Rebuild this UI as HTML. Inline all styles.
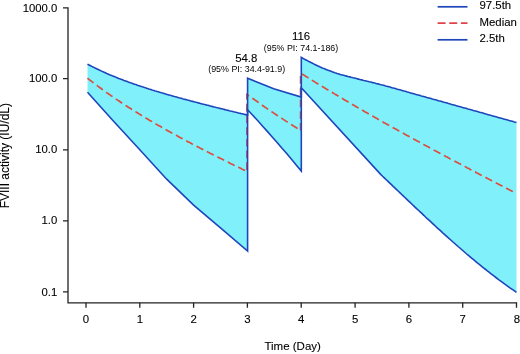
<!DOCTYPE html>
<html><head><meta charset="utf-8"><style>
html,body{margin:0;padding:0;background:#fff;}
svg{display:block;will-change:transform;}
text{font-family:"Liberation Sans",sans-serif;fill:#000;stroke:#000;stroke-width:0.1px;}
</style></head><body>
<svg width="520" height="354" viewBox="0 0 520 354">
<rect width="520" height="354" fill="#fff"/>
<polygon points="87.5,64.1 88.6,64.7 89.6,65.2 90.7,65.8 91.8,66.4 92.9,66.9 93.9,67.4 95.0,68.0 96.1,68.5 97.2,69.0 98.2,69.5 99.3,70.1 100.4,70.6 101.5,71.1 102.5,71.6 103.6,72.0 104.7,72.5 105.8,73.0 106.8,73.5 107.9,73.9 109.0,74.4 110.1,74.9 111.1,75.3 112.2,75.8 113.3,76.2 114.4,76.6 115.4,77.1 116.5,77.5 117.6,77.9 118.7,78.4 119.7,78.8 120.8,79.2 121.9,79.6 123.0,80.0 124.0,80.4 125.1,80.8 126.2,81.2 127.3,81.6 128.3,82.0 129.4,82.4 130.5,82.8 131.6,83.1 132.6,83.5 133.7,83.9 134.8,84.3 135.9,84.6 136.9,85.0 138.0,85.4 139.1,85.7 140.2,86.1 141.2,86.4 142.3,86.8 143.4,87.1 144.4,87.5 145.5,87.8 146.6,88.2 147.7,88.5 148.7,88.9 149.8,89.2 150.9,89.5 152.0,89.9 153.0,90.2 154.1,90.5 155.2,90.9 156.3,91.2 157.3,91.5 158.4,91.8 159.5,92.2 160.6,92.5 161.6,92.8 162.7,93.1 163.8,93.4 164.9,93.7 165.9,94.1 167.0,94.4 168.1,94.7 169.2,95.0 170.2,95.3 171.3,95.6 172.4,95.9 173.5,96.2 174.5,96.5 175.6,96.8 176.7,97.1 177.8,97.4 178.8,97.7 179.9,98.0 181.0,98.3 182.1,98.6 183.1,98.9 184.2,99.2 185.3,99.4 186.4,99.7 187.4,100.0 188.5,100.3 189.6,100.6 190.7,100.9 191.7,101.2 192.8,101.4 193.9,101.7 194.9,102.0 196.0,102.3 197.1,102.6 198.2,102.9 199.2,103.1 200.3,103.4 201.4,103.7 202.5,104.0 203.5,104.2 204.6,104.5 205.7,104.8 206.8,105.1 207.8,105.3 208.9,105.6 210.0,105.9 211.1,106.2 212.1,106.4 213.2,106.7 214.3,107.0 215.4,107.2 216.4,107.5 217.5,107.8 218.6,108.0 219.7,108.3 220.7,108.6 221.8,108.8 222.9,109.1 224.0,109.4 225.0,109.6 226.1,109.9 227.2,110.2 228.3,110.4 229.3,110.7 230.4,111.0 231.5,111.2 232.6,111.5 233.6,111.8 234.7,112.0 235.8,112.3 236.9,112.5 237.9,112.8 239.0,113.1 240.1,113.3 241.2,113.6 242.2,113.8 243.3,114.1 244.4,114.4 245.5,114.6 246.5,114.9 247.6,115.1 247.6,78.2 273.7,88.8 301.3,97.1 301.3,57.4 302.4,58.0 303.5,58.6 304.5,59.2 305.6,59.8 306.7,60.3 307.8,60.9 308.9,61.5 310.0,62.0 311.0,62.6 312.1,63.1 313.2,63.6 314.3,64.2 315.4,64.7 316.4,65.2 317.5,65.8 318.6,66.3 319.7,66.8 320.8,67.2 321.8,67.7 322.9,68.2 324.0,68.6 325.1,69.0 326.2,69.5 327.3,69.9 328.3,70.3 329.4,70.7 330.5,71.1 331.6,71.5 332.7,71.9 333.7,72.3 334.8,72.7 335.9,73.0 337.0,73.4 338.1,73.7 339.1,74.0 340.2,74.4 341.3,74.7 342.4,75.0 343.5,75.3 344.6,75.6 345.6,75.9 346.7,76.1 347.8,76.4 348.9,76.7 350.0,76.9 351.0,77.2 352.1,77.5 353.2,77.8 354.3,78.0 355.4,78.3 356.5,78.6 357.5,78.9 358.6,79.1 359.7,79.4 360.8,79.7 361.9,79.9 362.9,80.2 364.0,80.5 365.1,80.7 366.2,81.0 367.3,81.3 368.3,81.5 369.4,81.8 370.5,82.0 371.6,82.3 372.7,82.6 373.8,82.8 374.8,83.1 375.9,83.4 377.0,83.7 378.1,83.9 379.2,84.2 380.2,84.5 381.3,84.8 382.4,85.0 383.5,85.3 384.6,85.6 385.6,85.9 386.7,86.2 387.8,86.5 388.9,86.8 390.0,87.1 391.1,87.4 392.1,87.7 393.2,88.0 394.3,88.3 395.4,88.6 396.5,88.9 397.5,89.2 398.6,89.5 399.7,89.8 400.8,90.1 401.9,90.4 403.0,90.7 404.0,91.0 405.1,91.3 406.2,91.6 407.3,92.0 408.4,92.3 409.4,92.6 410.5,92.9 411.6,93.2 412.7,93.5 413.8,93.8 414.8,94.1 415.9,94.4 417.0,94.7 418.1,95.0 419.2,95.3 420.3,95.6 421.3,95.9 422.4,96.2 423.5,96.5 424.6,96.8 425.7,97.1 426.7,97.4 427.8,97.7 428.9,98.0 430.0,98.3 431.1,98.6 432.2,98.9 433.2,99.2 434.3,99.5 435.4,99.8 436.5,100.1 437.6,100.4 438.6,100.7 439.7,101.0 440.8,101.3 441.9,101.6 443.0,101.9 444.0,102.2 445.1,102.5 446.2,102.8 447.3,103.1 448.4,103.5 449.5,103.8 450.5,104.1 451.6,104.4 452.7,104.7 453.8,105.0 454.9,105.3 455.9,105.6 457.0,105.9 458.1,106.2 459.2,106.5 460.3,106.8 461.3,107.1 462.4,107.4 463.5,107.7 464.6,108.0 465.7,108.3 466.8,108.6 467.8,108.9 468.9,109.2 470.0,109.5 471.1,109.8 472.2,110.1 473.2,110.4 474.3,110.7 475.4,111.0 476.5,111.3 477.6,111.6 478.7,111.9 479.7,112.2 480.8,112.5 481.9,112.8 483.0,113.1 484.1,113.4 485.1,113.7 486.2,114.1 487.3,114.4 488.4,114.7 489.5,115.0 490.5,115.3 491.6,115.6 492.7,115.9 493.8,116.2 494.9,116.5 496.0,116.8 497.0,117.1 498.1,117.4 499.2,117.7 500.3,118.0 501.4,118.3 502.4,118.6 503.5,118.9 504.6,119.2 505.7,119.5 506.8,119.8 507.8,120.1 508.9,120.4 510.0,120.7 511.1,121.0 512.2,121.3 513.3,121.6 514.3,121.9 515.4,122.2 516.5,122.5 516.5,292.3 514.8,291.1 513.1,289.9 511.4,288.8 509.6,287.6 507.9,286.3 506.2,285.1 504.5,283.9 502.8,282.6 501.1,281.4 499.3,280.1 497.6,278.8 495.9,277.5 494.2,276.2 492.5,274.9 490.8,273.6 489.0,272.2 487.3,270.9 485.6,269.5 483.9,268.2 482.2,266.8 480.5,265.4 478.7,264.0 477.0,262.6 475.3,261.2 473.6,259.7 471.9,258.3 470.2,256.9 468.4,255.4 466.7,254.0 465.0,252.5 463.3,251.0 461.6,249.5 459.9,248.0 458.1,246.5 456.4,245.0 454.7,243.5 453.0,242.0 451.3,240.5 449.6,239.0 447.8,237.4 446.1,235.9 444.4,234.3 442.7,232.8 441.0,231.2 439.3,229.6 437.5,228.1 435.8,226.5 434.1,224.9 432.4,223.3 430.7,221.7 429.0,220.1 427.2,218.6 425.5,217.0 423.8,215.3 422.1,213.7 420.4,212.1 418.7,210.5 416.9,208.9 415.2,207.3 413.5,205.7 411.8,204.0 410.1,202.4 408.4,200.8 406.6,199.1 404.9,197.5 403.2,195.9 401.5,194.3 399.8,192.6 398.1,191.0 396.3,189.3 394.6,187.7 392.9,186.1 391.2,184.4 389.5,182.8 387.8,181.2 386.0,179.5 384.3,177.9 382.6,176.3 380.9,174.6 301.3,87.7 301.3,171.1 296.4,165.2 291.5,159.3 286.7,153.6 281.8,147.9 276.9,142.2 272.0,136.7 267.1,131.1 262.2,125.7 257.4,120.3 252.5,115.0 247.6,109.8 247.6,251.1 220.5,227.9 193.6,205.1 166.7,179.2 139.8,149.7 112.9,120.5 87.5,92.3" fill="#80f0fa"/>
<polyline points="87.5,78.2 88.6,79.1 89.6,79.9 90.7,80.7 91.8,81.6 92.9,82.4 93.9,83.2 95.0,84.0 96.1,84.8 97.2,85.6 98.2,86.4 99.3,87.2 100.4,88.0 101.5,88.8 102.5,89.6 103.6,90.4 104.7,91.1 105.8,91.9 106.8,92.7 107.9,93.4 109.0,94.2 110.1,94.9 111.1,95.7 112.2,96.4 113.3,97.2 114.4,97.9 115.4,98.6 116.5,99.4 117.6,100.1 118.7,100.8 119.7,101.5 120.8,102.3 121.9,103.0 123.0,103.7 124.0,104.4 125.1,105.1 126.2,105.8 127.3,106.5 128.3,107.2 129.4,107.8 130.5,108.5 131.6,109.2 132.6,109.9 133.7,110.6 134.8,111.2 135.9,111.9 136.9,112.6 138.0,113.2 139.1,113.9 140.2,114.6 141.2,115.2 142.3,115.9 143.4,116.5 144.4,117.2 145.5,117.8 146.6,118.5 147.7,119.1 148.7,119.7 149.8,120.4 150.9,121.0 152.0,121.6 153.0,122.3 154.1,122.9 155.2,123.5 156.3,124.2 157.3,124.8 158.4,125.4 159.5,126.0 160.6,126.6 161.6,127.2 162.7,127.8 163.8,128.5 164.9,129.1 165.9,129.7 167.0,130.3 168.1,130.9 169.2,131.5 170.2,132.1 171.3,132.7 172.4,133.3 173.5,133.9 174.5,134.4 175.6,135.0 176.7,135.6 177.8,136.2 178.8,136.8 179.9,137.4 181.0,138.0 182.1,138.5 183.1,139.1 184.2,139.7 185.3,140.3 186.4,140.8 187.4,141.4 188.5,142.0 189.6,142.6 190.7,143.1 191.7,143.7 192.8,144.3 193.9,144.8 194.9,145.4 196.0,145.9 197.1,146.5 198.2,147.1 199.2,147.6 200.3,148.2 201.4,148.7 202.5,149.3 203.5,149.9 204.6,150.4 205.7,151.0 206.8,151.5 207.8,152.1 208.9,152.6 210.0,153.2 211.1,153.7 212.1,154.2 213.2,154.8 214.3,155.3 215.4,155.9 216.4,156.4 217.5,157.0 218.6,157.5 219.7,158.0 220.7,158.6 221.8,159.1 222.9,159.6 224.0,160.2 225.0,160.7 226.1,161.2 227.2,161.8 228.3,162.3 229.3,162.8 230.4,163.4 231.5,163.9 232.6,164.4 233.6,165.0 234.7,165.5 235.8,166.0 236.9,166.5 237.9,167.1 239.0,167.6 240.1,168.1 241.2,168.6 242.2,169.2 243.3,169.7 244.4,170.2 245.5,170.7 246.5,171.2 246.9,171.8 246.9,94.6 252.5,98.2 257.4,101.7 262.2,105.2 267.1,108.6 272.0,111.9 276.9,115.2 281.8,118.4 286.7,121.6 291.5,124.7 296.4,127.8 300.6,130.8 300.6,73.5 302.7,74.4 304.2,75.3 305.6,76.2 307.1,77.1 308.5,78.0 310.0,78.9 311.4,79.8 312.9,80.7 314.3,81.6 315.7,82.5 317.2,83.4 318.6,84.3 320.1,85.2 321.5,86.1 323.0,86.9 324.4,87.8 325.9,88.7 327.3,89.6 328.7,90.4 330.2,91.3 331.6,92.2 333.1,93.0 334.5,93.9 336.0,94.8 337.4,95.6 338.9,96.5 340.3,97.3 341.7,98.2 343.2,99.1 344.6,99.9 346.1,100.8 347.5,101.6 349.0,102.5 350.4,103.3 351.9,104.1 353.3,105.0 354.7,105.8 356.2,106.7 357.6,107.5 359.1,108.3 360.5,109.2 362.0,110.0 363.4,110.8 364.8,111.7 366.3,112.5 367.7,113.3 369.2,114.2 370.6,115.0 372.1,115.8 373.5,116.6 375.0,117.5 376.4,118.3 377.8,119.1 379.3,119.9 380.7,120.7 382.2,121.5 383.6,122.4 385.1,123.2 386.5,124.0 388.0,124.8 389.4,125.6 390.8,126.4 392.3,127.2 393.7,128.0 395.2,128.8 396.6,129.6 398.1,130.4 399.5,131.2 401.0,132.0 402.4,132.8 403.8,133.6 405.3,134.4 406.7,135.2 408.2,136.0 409.6,136.8 411.1,137.6 412.5,138.4 414.0,139.2 415.4,140.0 416.8,140.8 418.3,141.6 419.7,142.3 421.2,143.1 422.6,143.9 424.1,144.7 425.5,145.5 427.0,146.3 428.4,147.0 429.8,147.8 431.3,148.6 432.7,149.4 434.2,150.2 435.6,150.9 437.1,151.7 438.5,152.5 440.0,153.3 441.4,154.0 442.8,154.8 444.3,155.6 445.7,156.4 447.2,157.1 448.6,157.9 450.1,158.7 451.5,159.4 453.0,160.2 454.4,161.0 455.8,161.7 457.3,162.5 458.7,163.3 460.2,164.0 461.6,164.8 463.1,165.6 464.5,166.3 465.9,167.1 467.4,167.9 468.8,168.6 470.3,169.4 471.7,170.1 473.2,170.9 474.6,171.7 476.1,172.4 477.5,173.2 478.9,173.9 480.4,174.7 481.8,175.4 483.3,176.2 484.7,176.9 486.2,177.7 487.6,178.5 489.1,179.2 490.5,180.0 491.9,180.7 493.4,181.5 494.8,182.2 496.3,183.0 497.7,183.7 499.2,184.5 500.6,185.2 502.1,186.0 503.5,186.7 504.9,187.4 506.4,188.2 507.8,188.9 509.3,189.7 510.7,190.4 512.2,191.2 513.6,191.9 515.1,192.7 516.5,193.4" fill="none" stroke="#dc4e40" stroke-width="1.7" stroke-dasharray="7.7 4"/>
<polyline points="87.5,64.1 88.6,64.7 89.6,65.2 90.7,65.8 91.8,66.4 92.9,66.9 93.9,67.4 95.0,68.0 96.1,68.5 97.2,69.0 98.2,69.5 99.3,70.1 100.4,70.6 101.5,71.1 102.5,71.6 103.6,72.0 104.7,72.5 105.8,73.0 106.8,73.5 107.9,73.9 109.0,74.4 110.1,74.9 111.1,75.3 112.2,75.8 113.3,76.2 114.4,76.6 115.4,77.1 116.5,77.5 117.6,77.9 118.7,78.4 119.7,78.8 120.8,79.2 121.9,79.6 123.0,80.0 124.0,80.4 125.1,80.8 126.2,81.2 127.3,81.6 128.3,82.0 129.4,82.4 130.5,82.8 131.6,83.1 132.6,83.5 133.7,83.9 134.8,84.3 135.9,84.6 136.9,85.0 138.0,85.4 139.1,85.7 140.2,86.1 141.2,86.4 142.3,86.8 143.4,87.1 144.4,87.5 145.5,87.8 146.6,88.2 147.7,88.5 148.7,88.9 149.8,89.2 150.9,89.5 152.0,89.9 153.0,90.2 154.1,90.5 155.2,90.9 156.3,91.2 157.3,91.5 158.4,91.8 159.5,92.2 160.6,92.5 161.6,92.8 162.7,93.1 163.8,93.4 164.9,93.7 165.9,94.1 167.0,94.4 168.1,94.7 169.2,95.0 170.2,95.3 171.3,95.6 172.4,95.9 173.5,96.2 174.5,96.5 175.6,96.8 176.7,97.1 177.8,97.4 178.8,97.7 179.9,98.0 181.0,98.3 182.1,98.6 183.1,98.9 184.2,99.2 185.3,99.4 186.4,99.7 187.4,100.0 188.5,100.3 189.6,100.6 190.7,100.9 191.7,101.2 192.8,101.4 193.9,101.7 194.9,102.0 196.0,102.3 197.1,102.6 198.2,102.9 199.2,103.1 200.3,103.4 201.4,103.7 202.5,104.0 203.5,104.2 204.6,104.5 205.7,104.8 206.8,105.1 207.8,105.3 208.9,105.6 210.0,105.9 211.1,106.2 212.1,106.4 213.2,106.7 214.3,107.0 215.4,107.2 216.4,107.5 217.5,107.8 218.6,108.0 219.7,108.3 220.7,108.6 221.8,108.8 222.9,109.1 224.0,109.4 225.0,109.6 226.1,109.9 227.2,110.2 228.3,110.4 229.3,110.7 230.4,111.0 231.5,111.2 232.6,111.5 233.6,111.8 234.7,112.0 235.8,112.3 236.9,112.5 237.9,112.8 239.0,113.1 240.1,113.3 241.2,113.6 242.2,113.8 243.3,114.1 244.4,114.4 245.5,114.6 246.5,114.9 247.6,115.1 247.6,78.2 273.7,88.8 301.3,97.1 301.3,57.4 302.4,58.0 303.5,58.6 304.5,59.2 305.6,59.8 306.7,60.3 307.8,60.9 308.9,61.5 310.0,62.0 311.0,62.6 312.1,63.1 313.2,63.6 314.3,64.2 315.4,64.7 316.4,65.2 317.5,65.8 318.6,66.3 319.7,66.8 320.8,67.2 321.8,67.7 322.9,68.2 324.0,68.6 325.1,69.0 326.2,69.5 327.3,69.9 328.3,70.3 329.4,70.7 330.5,71.1 331.6,71.5 332.7,71.9 333.7,72.3 334.8,72.7 335.9,73.0 337.0,73.4 338.1,73.7 339.1,74.0 340.2,74.4 341.3,74.7 342.4,75.0 343.5,75.3 344.6,75.6 345.6,75.9 346.7,76.1 347.8,76.4 348.9,76.7 350.0,76.9 351.0,77.2 352.1,77.5 353.2,77.8 354.3,78.0 355.4,78.3 356.5,78.6 357.5,78.9 358.6,79.1 359.7,79.4 360.8,79.7 361.9,79.9 362.9,80.2 364.0,80.5 365.1,80.7 366.2,81.0 367.3,81.3 368.3,81.5 369.4,81.8 370.5,82.0 371.6,82.3 372.7,82.6 373.8,82.8 374.8,83.1 375.9,83.4 377.0,83.7 378.1,83.9 379.2,84.2 380.2,84.5 381.3,84.8 382.4,85.0 383.5,85.3 384.6,85.6 385.6,85.9 386.7,86.2 387.8,86.5 388.9,86.8 390.0,87.1 391.1,87.4 392.1,87.7 393.2,88.0 394.3,88.3 395.4,88.6 396.5,88.9 397.5,89.2 398.6,89.5 399.7,89.8 400.8,90.1 401.9,90.4 403.0,90.7 404.0,91.0 405.1,91.3 406.2,91.6 407.3,92.0 408.4,92.3 409.4,92.6 410.5,92.9 411.6,93.2 412.7,93.5 413.8,93.8 414.8,94.1 415.9,94.4 417.0,94.7 418.1,95.0 419.2,95.3 420.3,95.6 421.3,95.9 422.4,96.2 423.5,96.5 424.6,96.8 425.7,97.1 426.7,97.4 427.8,97.7 428.9,98.0 430.0,98.3 431.1,98.6 432.2,98.9 433.2,99.2 434.3,99.5 435.4,99.8 436.5,100.1 437.6,100.4 438.6,100.7 439.7,101.0 440.8,101.3 441.9,101.6 443.0,101.9 444.0,102.2 445.1,102.5 446.2,102.8 447.3,103.1 448.4,103.5 449.5,103.8 450.5,104.1 451.6,104.4 452.7,104.7 453.8,105.0 454.9,105.3 455.9,105.6 457.0,105.9 458.1,106.2 459.2,106.5 460.3,106.8 461.3,107.1 462.4,107.4 463.5,107.7 464.6,108.0 465.7,108.3 466.8,108.6 467.8,108.9 468.9,109.2 470.0,109.5 471.1,109.8 472.2,110.1 473.2,110.4 474.3,110.7 475.4,111.0 476.5,111.3 477.6,111.6 478.7,111.9 479.7,112.2 480.8,112.5 481.9,112.8 483.0,113.1 484.1,113.4 485.1,113.7 486.2,114.1 487.3,114.4 488.4,114.7 489.5,115.0 490.5,115.3 491.6,115.6 492.7,115.9 493.8,116.2 494.9,116.5 496.0,116.8 497.0,117.1 498.1,117.4 499.2,117.7 500.3,118.0 501.4,118.3 502.4,118.6 503.5,118.9 504.6,119.2 505.7,119.5 506.8,119.8 507.8,120.1 508.9,120.4 510.0,120.7 511.1,121.0 512.2,121.3 513.3,121.6 514.3,121.9 515.4,122.2 516.5,122.5" fill="none" stroke="#1e46bc" stroke-width="1.6" stroke-linejoin="miter"/>
<polyline points="87.5,92.3 112.9,120.5 139.8,149.7 166.7,179.2 193.6,205.1 220.5,227.9 247.6,251.1 247.6,109.8 252.5,115.0 257.4,120.3 262.2,125.7 267.1,131.1 272.0,136.7 276.9,142.2 281.8,147.9 286.7,153.6 291.5,159.3 296.4,165.2 301.3,171.1 301.3,87.7 380.9,174.6 382.6,176.3 384.3,177.9 386.0,179.5 387.8,181.2 389.5,182.8 391.2,184.4 392.9,186.1 394.6,187.7 396.3,189.3 398.1,191.0 399.8,192.6 401.5,194.3 403.2,195.9 404.9,197.5 406.6,199.1 408.4,200.8 410.1,202.4 411.8,204.0 413.5,205.7 415.2,207.3 416.9,208.9 418.7,210.5 420.4,212.1 422.1,213.7 423.8,215.3 425.5,217.0 427.2,218.6 429.0,220.1 430.7,221.7 432.4,223.3 434.1,224.9 435.8,226.5 437.5,228.1 439.3,229.6 441.0,231.2 442.7,232.8 444.4,234.3 446.1,235.9 447.8,237.4 449.6,239.0 451.3,240.5 453.0,242.0 454.7,243.5 456.4,245.0 458.1,246.5 459.9,248.0 461.6,249.5 463.3,251.0 465.0,252.5 466.7,254.0 468.4,255.4 470.2,256.9 471.9,258.3 473.6,259.7 475.3,261.2 477.0,262.6 478.7,264.0 480.5,265.4 482.2,266.8 483.9,268.2 485.6,269.5 487.3,270.9 489.0,272.2 490.8,273.6 492.5,274.9 494.2,276.2 495.9,277.5 497.6,278.8 499.3,280.1 501.1,281.4 502.8,282.6 504.5,283.9 506.2,285.1 507.9,286.3 509.6,287.6 511.4,288.8 513.1,289.9 514.8,291.1 516.5,292.3" fill="none" stroke="#1e46bc" stroke-width="1.6" stroke-linejoin="miter"/>
<g stroke="#222" stroke-width="1.3" fill="none">
<path d="M63,7.8H68V302.8H516.5V303"/>
<path d="M63,78.7H68M63,149.8H68M63,220.8H68M63,291.9H68"/>
<path d="M86.0,302.8V307.8M139.8,302.8V307.8M193.6,302.8V307.8M247.4,302.8V307.8M301.2,302.8V307.8M355.1,302.8V307.8M408.9,302.8V307.8M462.7,302.8V307.8M516.5,302.8V307.8"/>
</g>
<g font-size="11.3" text-anchor="end">
<text x="57.3" y="11.6">1000.0</text>
<text x="57.3" y="82.4">100.0</text>
<text x="57.3" y="153.4">10.0</text>
<text x="57.3" y="224.4">1.0</text>
<text x="57.3" y="295.5">0.1</text>
</g>
<g font-size="11.4" text-anchor="middle">
<text x="86.0" y="323.4">0</text><text x="139.8" y="323.4">1</text><text x="193.6" y="323.4">2</text><text x="247.4" y="323.4">3</text><text x="301.2" y="323.4">4</text><text x="355.1" y="323.4">5</text><text x="408.9" y="323.4">6</text><text x="462.7" y="323.4">7</text><text x="516.8" y="323.4">8</text>
<text x="292.7" y="350" font-size="11.5">Time (Day)</text>
<text transform="translate(9,155.7) rotate(-90)" font-size="12">FVIII activity (IU/dL)</text>
<text x="246.3" y="61.8" font-size="11.4">54.8</text>
<text x="246.7" y="72" font-size="8.9" style="stroke:none">(95% PI: 34.4-91.9)</text>
<text x="301" y="40" font-size="11.4">116</text>
<text x="301" y="50.8" font-size="8.9" style="stroke:none">(95% PI: 74.1-186)</text>
</g>
<g stroke-width="1.7" fill="none">
<path d="M437.6,6.8H467.5" stroke="#1e46bc"/>
<path d="M437.6,23.2H467.5" stroke="#e0444a" stroke-dasharray="8 3.65"/>
<path d="M437.6,39.8H467.5" stroke="#1e46bc"/>
</g>
<g font-size="11.4">
<text x="479.5" y="9.4">97.5th</text>
<text x="479.5" y="26.3">Median</text>
<text x="479.5" y="42.4">2.5th</text>
</g>
</svg>
</body></html>
